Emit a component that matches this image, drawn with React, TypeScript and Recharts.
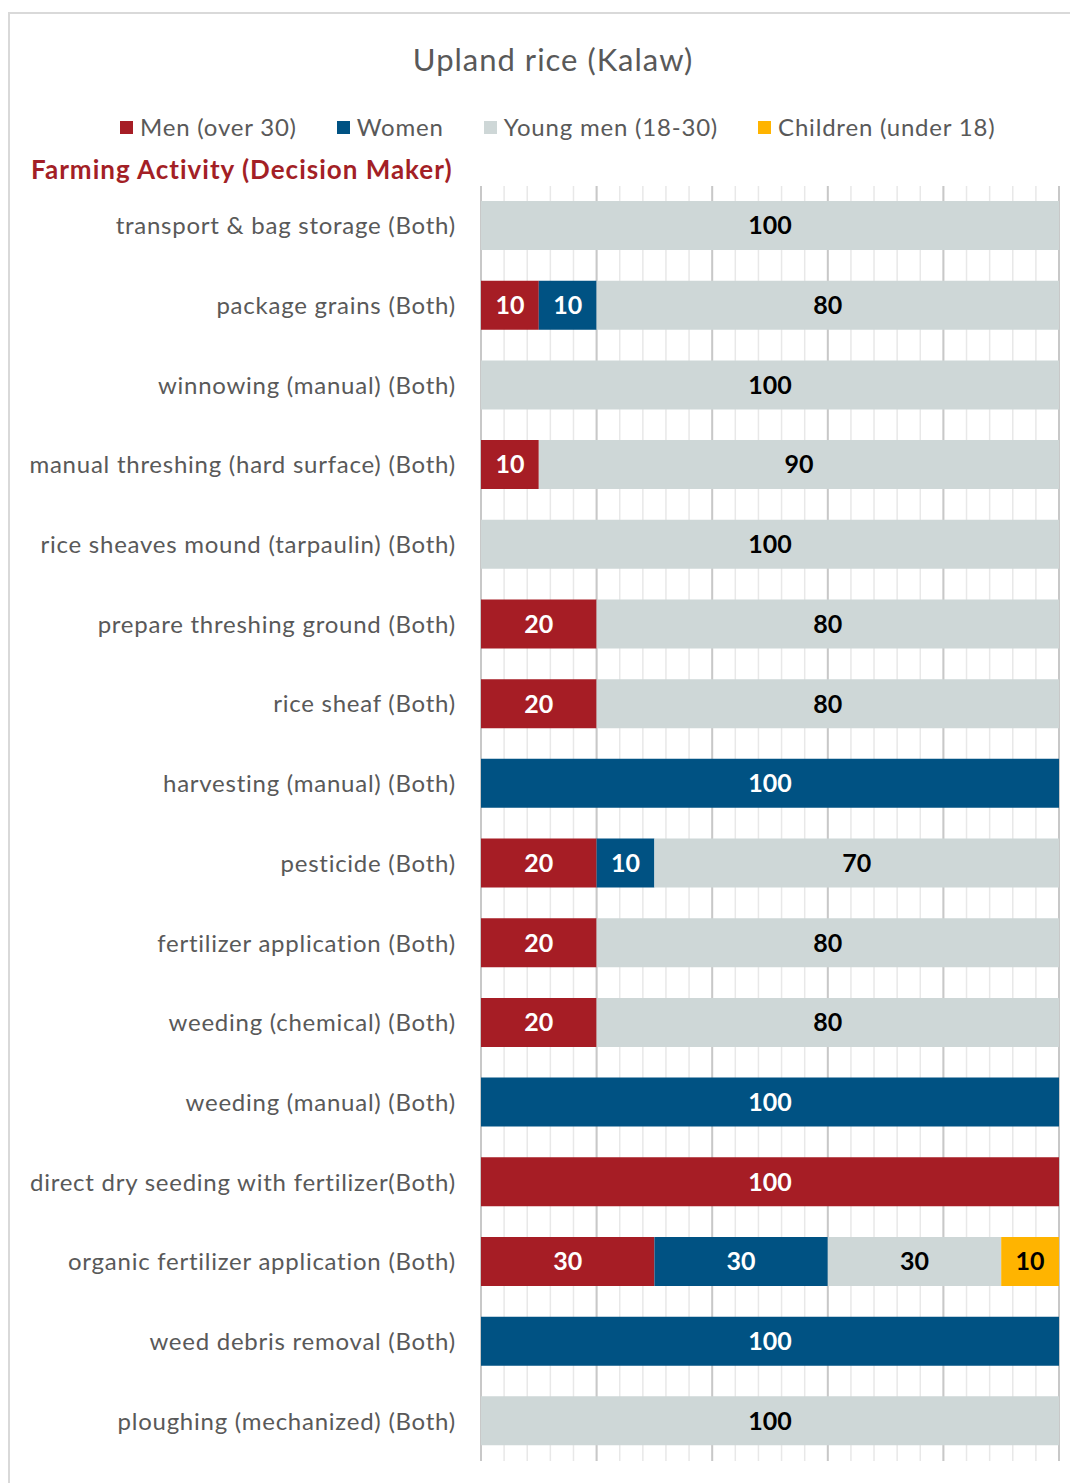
import { BarChart, Bar, XAxis, YAxis, CartesianGrid, LabelList } from "recharts";

const activities = [
  "transport & bag storage (Both)",
  "package grains (Both)",
  "winnowing (manual) (Both)",
  "manual threshing (hard surface) (Both)",
  "rice sheaves mound (tarpaulin) (Both)",
  "prepare threshing ground (Both)",
  "rice sheaf (Both)",
  "harvesting (manual) (Both)",
  "pesticide (Both)",
  "fertilizer application (Both)",
  "weeding (chemical) (Both)",
  "weeding (manual) (Both)",
  "direct dry seeding with fertilizer(Both)",
  "organic fertilizer application (Both)",
  "weed debris removal (Both)",
  "ploughing (mechanized) (Both)",
];

const menOver30 = [null, 10, null, 10, null, 20, 20, null, 20, 20, 20, null, 100, 30, null, null];
const women = [null, 10, null, null, null, null, null, 100, 10, null, null, 100, null, 30, 100, null];
const youngMen = [100, 80, 100, 90, 100, 80, 80, null, 70, 80, 80, null, null, 30, null, 100];
const children = [null, null, null, null, null, null, null, null, null, null, null, null, null, 10, null, null];

const series = [
  { key: "men", name: "Men (over 30)", color: "#a61d25", text: "#ffffff" },
  { key: "women", name: "Women", color: "#005283", text: "#ffffff" },
  { key: "young", name: "Young men (18-30)", color: "#ced7d7", text: "#000000" },
  { key: "children", name: "Children (under 18)", color: "#ffb400", text: "#000000" },
];

const minorTicks = Array.from({ length: 26 }, (_, i) => i * 4);
const majorTicks = [0, 20, 40, 60, 80, 100];

const data = activities.map((activity, i) => ({
  activity,
  men: menOver30[i],
  women: women[i],
  young: youngMen[i],
  children: children[i],
}));

const font = "Lato, 'Open Sans', sans-serif";

const gridGen = (ticks: number[]) => (props: any) => {
  const { xAxis, offset } = props;
  if (xAxis && typeof xAxis.scale === "function") return ticks.map((t) => xAxis.scale(t));
  return ticks.map((t) => offset.left + (offset.width * t) / 100);
};

// category labels, spaced a little wider like the original Calibri
const ActivityTick = (props: any) => {
  const { x, y, payload } = props;
  return (
    <text
      x={x}
      y={y}
      dy="0.355em"
      textAnchor="end"
      fill="#595959"
      fontSize={24}
      fontFamily={font}
      style={{ letterSpacing: "0.75px" }}
    >
      {payload.value}
    </text>
  );
};

export default function App() {
  return (
    <div style={{ position: "relative", width: 1070, height: 1475, overflow: "hidden", fontFamily: font }}>
      <div
        style={{
          position: "absolute",
          left: 0,
          top: 4,
          width: 1120,
          height: 1520,
          border: "2px solid #d9d9d9",
        }}
      />
      <div
        style={{
          position: "absolute",
          left: 0,
          top: 31,
          width: 1090,
          textAlign: "center",
          fontSize: 31,
          letterSpacing: "1px",
          color: "#595959",
          lineHeight: "40px",
        }}
      >
        Upland rice (Kalaw)
      </div>
      <div
        style={{
          position: "absolute",
          left: 112,
          top: 103,
          display: "flex",
          gap: 40,
          fontSize: 24,
          letterSpacing: "0.8px",
          color: "#595959",
          lineHeight: "32px",
        }}
      >
        {series.map((s) => (
          <div key={s.key} style={{ display: "flex", alignItems: "center" }}>
            <span style={{ width: 13, height: 13, background: s.color, marginRight: 7, display: "inline-block" }} />
            <span>{s.name}</span>
          </div>
        ))}
      </div>
      <div
        style={{
          position: "absolute",
          left: 23,
          top: 144,
          fontSize: 26,
          fontWeight: "bold",
          letterSpacing: "1px",
          color: "#a31f26",
          lineHeight: "34px",
        }}
      >
        Farming Activity (Decision Maker)
      </div>
      <div style={{ position: "absolute", left: 0, top: 0 }}>
        <BarChart
          width={1070}
          height={1475}
          data={data}
          layout="vertical"
          margin={{ top: 178, right: 19, bottom: 22, left: 0 }}
          barSize={49}
        >
          <CartesianGrid
            horizontal={false}
            stroke="#e8e8e8"
            strokeWidth={1.5}
            verticalCoordinatesGenerator={gridGen(minorTicks)}
          />
          <CartesianGrid
            horizontal={false}
            stroke="#c8c8c8"
            strokeWidth={2}
            verticalCoordinatesGenerator={gridGen(majorTicks)}
          />
          <XAxis type="number" domain={[0, 100]} hide />
          <YAxis
            type="category"
            dataKey="activity"
            width={473}
            interval={0}
            tickLine={false}
            axisLine={false}
            tickSize={0}
            tickMargin={25}
            tick={<ActivityTick />}
          />
          {series.map((s) => (
            <Bar key={s.key} dataKey={s.key} name={s.name} stackId="a" fill={s.color} isAnimationActive={false}>
              <LabelList
                dataKey={s.key}
                position="center"
                fill={s.text}
                fontSize={25}
                fontWeight="bold"
                fontFamily={font}
                formatter={(v: any) => (v ? v : "")}
              />
            </Bar>
          ))}
        </BarChart>
      </div>
    </div>
  );
}
